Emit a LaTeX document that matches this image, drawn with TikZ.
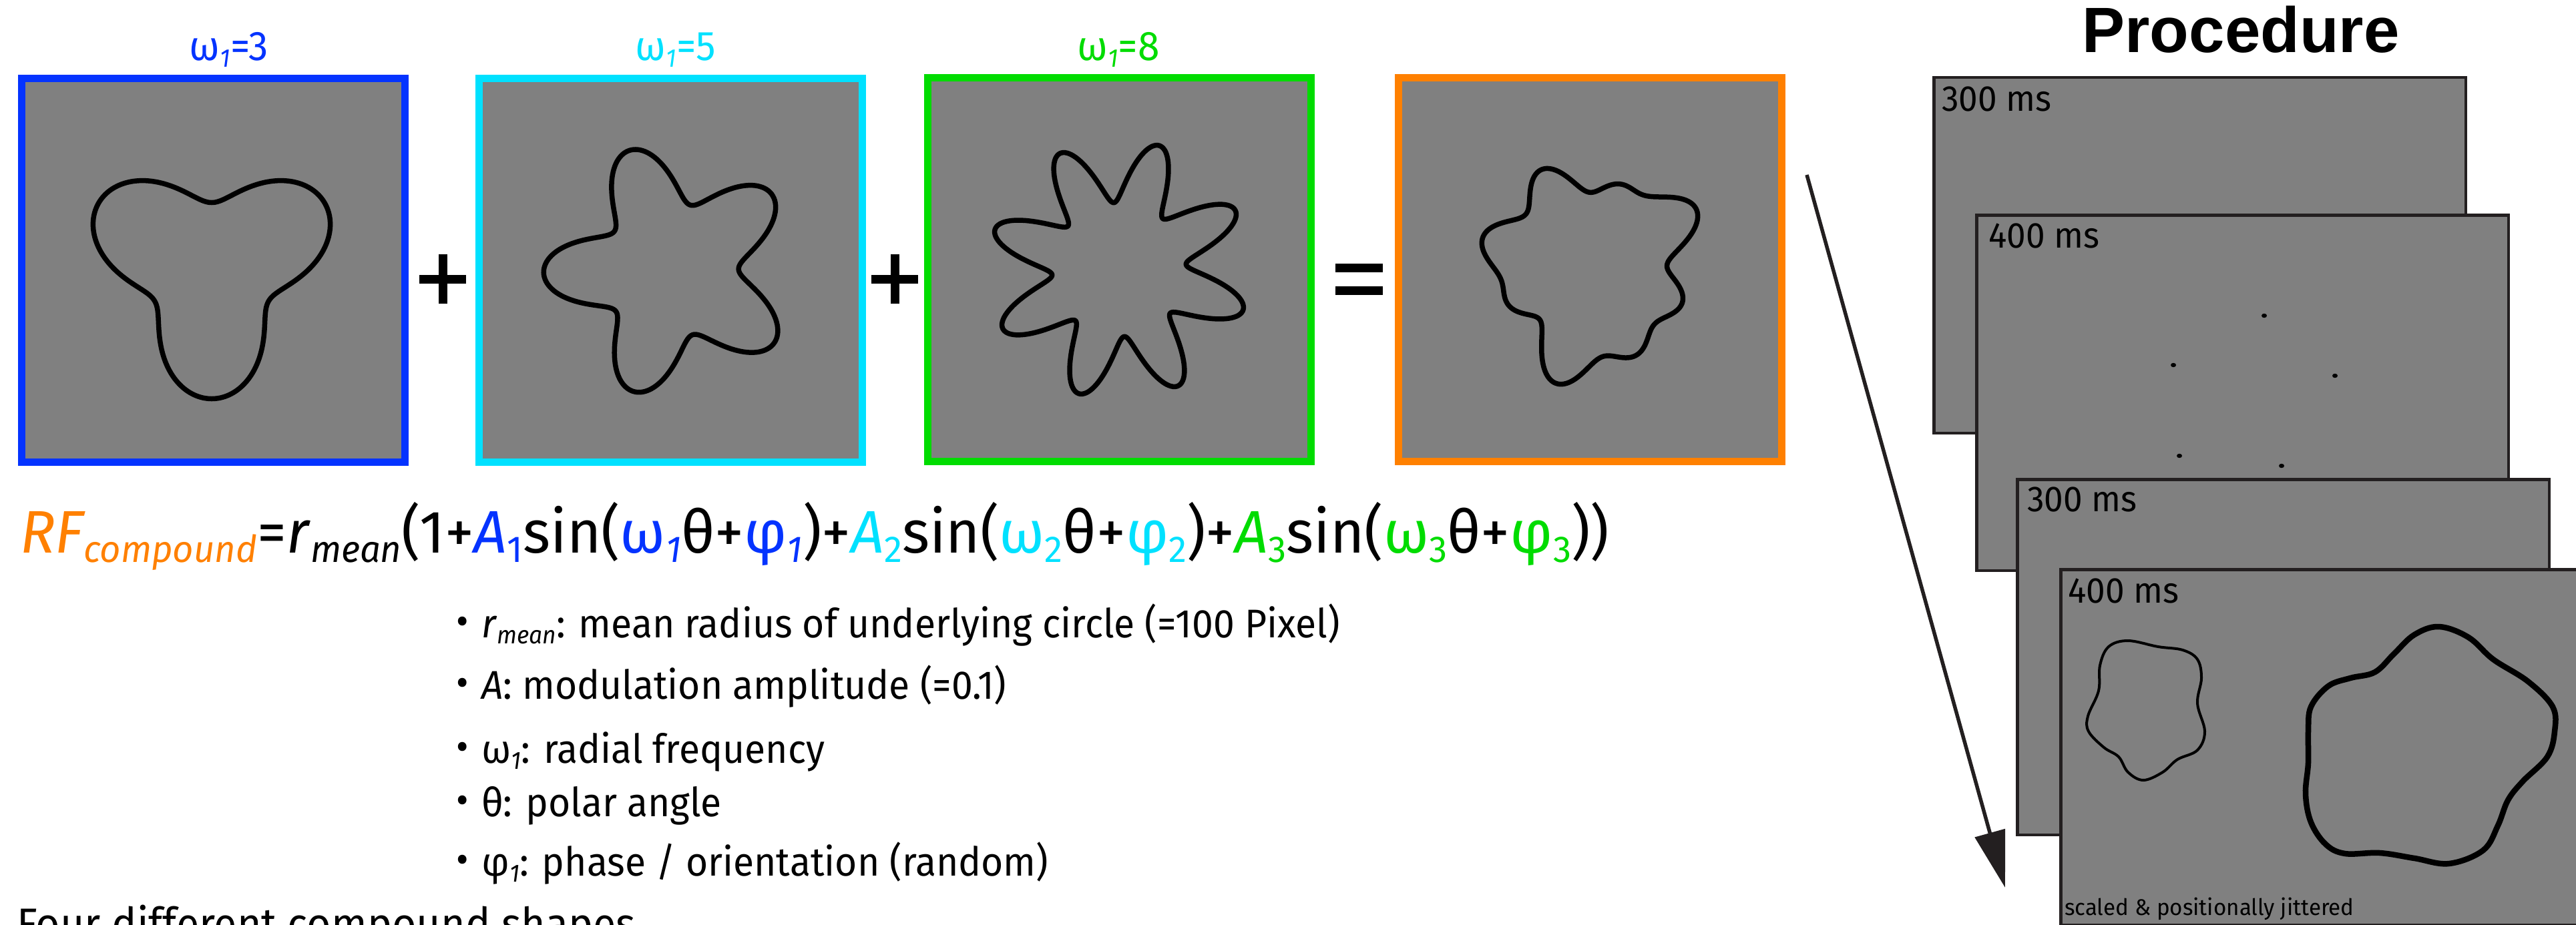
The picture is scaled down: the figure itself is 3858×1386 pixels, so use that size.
\documentclass[tikz,border=0pt]{standalone}
\usepackage{graphicx}
\usepackage{fontspec}
\setmainfont{Fira Sans}[FakeStretch=0.95]
\newfontfamily\formfont{Fira Sans}[FakeStretch=0.975]
\newfontfamily\headfont{Liberation Sans}
\usetikzlibrary{arrows.meta,calc}

\definecolor{rfblue}{RGB}{4,51,255}
\definecolor{rfcyan}{RGB}{0,225,255}
\definecolor{rfgreen}{RGB}{0,220,0}
\definecolor{rforange}{RGB}{255,128,0}
\definecolor{screengray}{RGB}{128,128,128}
\definecolor{inkdark}{RGB}{35,31,32}

% lowered, reduced subscripts as used in the formula
\newcommand{\lowsc}[1]{\raisebox{-0.16em}{\scalebox{0.62}{#1}}}
\newcommand{\itsub}[1]{\lowsc{\itshape #1}}
\newcommand{\bulletmark}{\makebox[38pt][l]{\raisebox{0.06em}{•}}}

\begin{document}
\begin{tikzpicture}[x=1pt,y=-1pt,
  panel/.style={draw=#1, line width=11pt, fill=screengray, inner sep=0pt,
    minimum width=574pt, minimum height=575pt},
  screen/.style={draw=inkdark, line width=4.5pt, fill=screengray, inner sep=0pt,
    minimum width=796.5pt, minimum height=532.5pt, anchor=north west},
  contour/.style={draw=black, line width=7.5pt, line join=round},
  txt/.style={inner sep=0pt, anchor=base west},
  lbl/.style={inner sep=0pt, anchor=base, font=\fontsize{62}{70}\selectfont},
  bullettxt/.style={txt, font=\fontsize{60}{70}\selectfont},
  scrtxt/.style={txt, font=\fontsize{54}{60}\selectfont},
  opsym/.style={line width=13pt, draw=black},
  declare function={
    rone(\t)=147*(1+0.33*sin(3*\t));
    rtwo(\t)=146*(1+0.30*sin(5*\t-95));
    rthree(\t)=148*(1+0.32*sin(8*\t-126));
    rcomp(\t)=141.5*(1+0.1036*(sin(3*\t)+sin(5*\t-95)+sin(8*\t-126)));
  }
]
\useasboundingbox (0,0) rectangle (3858,1386);
\fill[white] (0,0) rectangle (3858,1386);

% ---- the three radial-frequency components and their sum ----
\node[panel=rfblue]   (p1) at (319,405)  {};
\node[panel=rfcyan]   (p2) at (1004,405) {};
\node[panel=rfgreen]  (p3) at (1676,404) {};
\node[panel=rforange] (p4) at (2381,404) {};

\node[lbl, text=rfblue]  (l1) at (343,91)  {ω\itsub{1}=3};
\node[lbl, text=rfcyan]  (l2) at (1012,91) {ω\itsub{1}=5};
\node[lbl, text=rfgreen] (l3) at (1675,91) {ω\itsub{1}=8};

\begin{scope}[shift={(317,402)}, yscale=-1]
  \draw[contour] plot[domain=0:360, samples=361, variable=\t]
    ({rone(\t)*cos(\t)},{rone(\t)*sin(\t)}) -- cycle;
\end{scope}
\begin{scope}[shift={(1004,405)}, yscale=-1]
  \draw[contour] plot[domain=0:360, samples=361, variable=\t]
    ({rtwo(\t)*cos(\t)},{rtwo(\t)*sin(\t)}) -- cycle;
\end{scope}
\begin{scope}[shift={(1676,404)}, yscale=-1]
  \draw[contour] plot[domain=0:360, samples=481, variable=\t]
    ({rthree(\t)*cos(\t)},{rthree(\t)*sin(\t)}) -- cycle;
\end{scope}
\begin{scope}[shift={(2382,402)}, yscale=-1]
  \draw[contour] plot[domain=0:360, samples=481, variable=\t]
    ({rcomp(\t)*cos(\t)},{rcomp(\t)*sin(\t)}) -- cycle;
\end{scope}

% plus and equals signs between the panels
\coordinate (plusA) at (663,418);
\coordinate (plusB) at (1340,418);
\draw[opsym] ($(plusA)+(-35,0)$) -- ($(plusA)+(35,0)$);
\draw[opsym] ($(plusA)+(0,-37)$) -- ($(plusA)+(0,37)$);
\draw[opsym] ($(plusB)+(-35,0)$) -- ($(plusB)+(35,0)$);
\draw[opsym] ($(plusB)+(0,-37)$) -- ($(plusB)+(0,37)$);
\fill[black] (2000,395) rectangle (2071,408);
\fill[black] (2000,429) rectangle (2071,442);

% ---- formula and parameter list ----
\node[txt, font=\formfont\fontsize{90}{100}\selectfont] (formula) at (30,828)
  {{\color{rforange}\itshape RF\itsub{compound}}=\textit{r}\itsub{mean}(1+{\color{rfblue}\textit{A}\lowsc{1}}sin({\color{rfblue}ω\itsub{1}}θ+{\color{rfblue}φ\itsub{1}})+{\color{rfcyan}\textit{A}\lowsc{2}}sin({\color{rfcyan}ω\lowsc{2}}θ+{\color{rfcyan}φ\lowsc{2}})+{\color{rfgreen}\textit{A}\lowsc{3}}sin({\color{rfgreen}ω\lowsc{3}}θ+{\color{rfgreen}φ\lowsc{3}}))};

\node[bullettxt] (b1) at (683,955)  {\bulletmark\textit{r}\itsub{mean}: mean radius of underlying circle (=100 Pixel)};
\node[bullettxt] (b2) at (683,1047) {\bulletmark\textit{A}: modulation amplitude (=0.1)};
\node[bullettxt] (b3) at (683,1143) {\bulletmark ω\itsub{1}: radial frequency};
\node[bullettxt] (b4) at (683,1223) {\bulletmark θ: polar angle};
\node[bullettxt] (b5) at (683,1312) {\bulletmark φ\itsub{1}: phase / orientation (random)};

\node[txt, font=\fontsize{66}{74}\selectfont] (caption) at (25,1407) {Four different compound shapes};

% ---- trial procedure ----
\node[inner sep=0pt, anchor=base, font=\headfont\bfseries\fontsize{96}{100}\selectfont] (title) at (3356,79) {Procedure};

\node[screen] (s1) at (2894,114) {};
\node[screen] (s2) at (2958,320) {};
\node[screen] (s3) at (3019,716) {};
\node[screen] (s4) at (3084,851) {};

\node[scrtxt] (t1) at ($(s1.north west)+(14,53)$) {300 ms};
\node[scrtxt] (t2) at ($(s2.north west)+(20,51)$) {400 ms};
\node[scrtxt] (t3) at ($(s3.north west)+(17,50)$) {300 ms};
\node[scrtxt] (t4) at ($(s4.north west)+(13,52)$) {400 ms};
\node[txt, font=\formfont\fontsize{34}{38}\selectfont] (t5) at (3092,1371) {scaled \& positionally jittered};

% sparse dots sampled from a contour
\foreach \px/\py in {3391/473, 3255/547, 3497/563, 3264/683, 3417/698}
  \fill[black] (\px,\py) ellipse [x radius=4pt, y radius=3.2pt];

% scaled and jittered test shapes
\draw[black, line width=4pt, line join=round] plot[smooth cycle, tension=0.6] coordinates {
  (3187,960) (3232,969) (3269,974) (3291,988) (3297,1016) (3291,1054) (3302,1096)
  (3291,1124) (3261,1138) (3239,1157) (3210,1169) (3187,1157) (3173,1134)
  (3151,1120) (3128,1096) (3127,1073) (3143,1035) (3145,997) (3158,969)};
\draw[black, line width=8.5pt, line join=round] plot[smooth cycle, tension=0.6] coordinates {
  (3653,939) (3697,955) (3734,988) (3786,1021) (3823,1059) (3826,1096) (3815,1134)
  (3778,1171) (3756,1199) (3741,1237) (3719,1274) (3668,1294) (3616,1286)
  (3564,1278) (3512,1279) (3483,1265) (3461,1232) (3453,1190) (3457,1143)
  (3457,1096) (3461,1059) (3487,1028) (3520,1016) (3557,1007) (3586,979) (3616,951)};

% time arrow
\coordinate (arrowstart) at (2706,262);
\coordinate (arrowend) at (3003,1330);
\draw[draw=inkdark, line width=5.5pt, -{Triangle[length=85pt, width=46pt]}] (arrowstart) -- (arrowend);
\end{tikzpicture}
\end{document}
